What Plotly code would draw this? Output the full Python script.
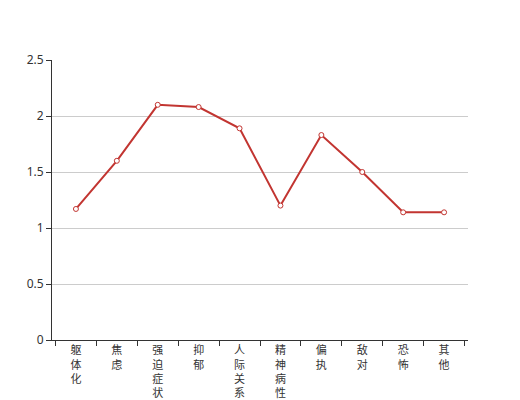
import plotly.graph_objects as go

categories = ["躯体化", "焦虑", "强迫症状", "抑郁", "人际关系敏感", "精神病性", "偏执", "敌对", "恐怖", "其他"]
values = [1.17, 1.6, 2.1, 2.08, 1.89, 1.2, 1.83, 1.5, 1.14, 1.14]
y_ticks = [0, 0.5, 1, 1.5, 2, 2.5]
y_tick_text = ["0", "0.5", "1", "1.5", "2", "2.5"]

x_labels = ["<br>".join(list(c)) for c in categories]

fig = go.Figure()
fig.add_trace(go.Scatter(
    x=x_labels, y=values, mode="lines+markers",
    line=dict(color="#c23531", width=2),
    marker=dict(symbol="circle", size=5, color="white", line=dict(color="#c23531", width=1)),
    hoverinfo="skip",
))

fig.update_layout(
    width=512, height=392,
    margin=dict(l=44, r=52, t=52, b=60),
    paper_bgcolor="white", plot_bgcolor="white",
    showlegend=False,
    font=dict(family="Noto Sans, Noto Sans CJK SC, sans-serif", size=12, color="#333"),
)
fig.update_xaxes(
    type="category", tickson="boundaries", automargin=False,
    showline=True, linecolor="#333", linewidth=1,
    ticks="outside", ticklen=5, tickcolor="#333",
    showgrid=False, tickangle=0,
    tickfont=dict(family="Noto Sans CJK SC, sans-serif", size=11, color="#333"),
)
fig.update_yaxes(
    range=[0, 2.5], tickvals=y_ticks, ticktext=y_tick_text, automargin=False,
    showline=True, linecolor="#333", linewidth=1,
    ticks="outside", ticklen=5, tickcolor="#333",
    showgrid=True, gridcolor="#ccc", gridwidth=1,
    zeroline=False,
)

fig.write_html("out.html")
